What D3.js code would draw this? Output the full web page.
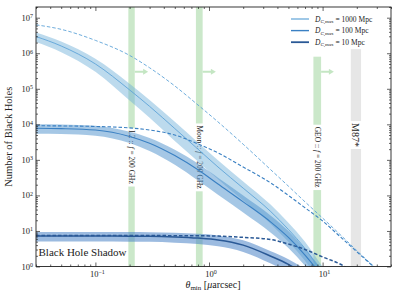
<!DOCTYPE html>
<html>
<head>
<meta charset="utf-8">
<script src="https://cdn.jsdelivr.net/npm/d3@7"></script>
<style>
body { margin: 0; background: white; }
text { font-family: "Liberation Serif", "DejaVu Serif", serif; fill: #222; }
</style>
</head>
<body>
<script>
const largeur = 399;
const hauteur = 299;
const zone = { gauche: 36, droite: 391, haut: 7, bas: 266.5 };

// angles minimaux (µas) communs à toutes les courbes
const thetas = [0.03, 0.05, 0.1, 0.2, 0.3, 0.5, 0.8, 1.2, 2, 3.5, 5, 7, 10, 15, 20, 27, 40];

// courbes pleines (avec incertitude relative)
const plein1000 = [2.95e6, 1.6e6, 5.0e5, 9.3e4, 3.2e4, 7.6e3, 2.0e3, 630, 160, 35, 11, 3.2, 0.63, 0.1, 0.025, 0.005, 0.0006];
const plein100 = [7760, 7590, 6920, 4570, 2950, 1320, 525, 209, 66, 17.8, 6.6, 2.1, 0.5, 0.063, 0.016, 0.003, 0.0004];
const plein10 = [7.2, 7.2, 7.2, 7.15, 7.1, 6.8, 6.3, 5.6, 4.0, 1.95, 1.15, 0.6, 0.22, 0.04, 0.01, 0.002, 0.0002];

const erreur1000 = [0.3, 0.33, 0.4, 0.5, 0.52, 0.55, 0.55, 0.55, 0.55, 0.55, 0.55, 0.55, 0.55, 0.55, 0.55, 0.55, 0.55];
const erreur100 = [0.3, 0.3, 0.31, 0.35, 0.4, 0.45, 0.5, 0.5, 0.5, 0.5, 0.5, 0.5, 0.5, 0.5, 0.5, 0.5, 0.5];
const erreur10 = [0.3, 0.3, 0.3, 0.3, 0.3, 0.31, 0.32, 0.34, 0.36, 0.38, 0.4, 0.4, 0.4, 0.4, 0.4, 0.4, 0.4];

// courbes en tirets
const tirets1000 = [6.3e6, 4.7e6, 2.3e6, 8.7e5, 3.9e5, 1.2e5, 3.5e4, 1.17e4, 2750, 525, 182, 66, 23, 6.8, 2.8, 1.15, 0.35];
const tirets100 = [9120, 9020, 8710, 7940, 6920, 5010, 2820, 1580, 630, 224, 100, 45, 19, 6.0, 2.6, 1.1, 0.34];
const tirets10 = [7.5, 7.5, 7.5, 7.46, 7.41, 7.38, 7.33, 7.16, 6.6, 5.75, 4.27, 3.02, 1.86, 1.07, 0.56, 0.25, 0.063];

const legendes = ["1000 Mpc", "100 Mpc", "10 Mpc"];
const couleursLignes = ["#5fa4d8", "#3a80c3", "#2a5996"];
const couleursBandes = ["#6baed6", "#4b8fcc", "#4a84c6"];
const opacitesBandes = [0.45, 0.5, 0.55];
const epaisseurs = [0.9, 1.1, 1.5];

// bandes verticales : observatoires et M87*
const bandesNoms = ["L2", "Moon", "GEO", "M87*"];
const bandesMin = [0.195, 0.767, 8.3, 17.7];
const bandesMax = [0.222, 0.879, 9.7, 21.8];
const bandesHaut = [2e7, 2e7, 8e5, 1.3e6];
const bandesCouleurs = ["#cbe8ca", "#cbe8ca", "#cbe8ca", "#e6e6e6"];
const hauteurFleche = 3e5;

const xTicksMajeurs = [0.1, 1, 10];
const yTicksMajeurs = [1, 10, 100, 1e3, 1e4, 1e5, 1e6, 1e7];

const svg = d3
.select("body")
.append("svg")
.attr("width", largeur)
.attr("height", hauteur);

const x = d3.scaleLog().domain([0.03, 40]).range([zone.gauche, zone.droite]);
const y = d3.scaleLog().domain([1, 2e7]).range([zone.bas, zone.haut]);

svg.append("defs")
.append("clipPath")
.attr("id", "clip")
.append("rect")
.attr("x", zone.gauche)
.attr("y", zone.haut)
.attr("width", zone.droite - zone.gauche)
.attr("height", zone.bas - zone.haut);

const trace = svg.append("g").attr("clip-path", "url(#clip)");

// bandes verticales
bandesNoms.forEach(function(nom, i)
{
    trace
    .append("rect")
    .attr("x", x(bandesMin[i]))
    .attr("width", x(bandesMax[i]) - x(bandesMin[i]))
    .attr("y", y(bandesHaut[i]))
    .attr("height", zone.bas - y(bandesHaut[i]))
    .attr("fill", bandesCouleurs[i]);

    if(i < 3)
    {
        const centre = Math.sqrt(bandesMin[i] * bandesMax[i]);
        const x0 = x(bandesMax[i]);
        const x1 = x(centre * 1.4);
        const yf = y(hauteurFleche);
        trace
        .append("line")
        .attr("x1", x0)
        .attr("x2", x1 - 4)
        .attr("y1", yf)
        .attr("y2", yf)
        .attr("stroke", "#c4e6c3")
        .attr("stroke-width", 2);
        trace
        .append("path")
        .attr("d", "M" + (x1 - 5) + "," + (yf - 3) + "L" + x1 + "," + yf + "L" + (x1 - 5) + "," + (yf + 3) + "Z")
        .attr("fill", "#c4e6c3");
    }
});

// étiquettes des bandes (texte tourné avec fond blanc)
const etiquettes = svg.append("g");
bandesNoms.forEach(function(nom, i)
{
    const centre = Math.sqrt(bandesMin[i] * bandesMax[i]);
    const g = etiquettes
    .append("g")
    .attr("transform", "translate(" + x(centre) + "," + (i < 3 ? y(1.2e3) : y(5e3)) + ") rotate(90)");

    const fond = g.append("rect").attr("fill", "white");

    const t = g
    .append("text")
    .attr("text-anchor", "middle")
    .attr("dy", "0.35em")
    .style("font-size", i < 3 ? "7.5px" : "10px");

    if(i < 3)
    {
        t.append("tspan").text(nom + " :: ");
        t.append("tspan").style("font-style", "italic").text("f");
        t.append("tspan").text(" = 200 GHz");
    }
    else
    {
        t.text(nom);
    }

    const b = t.node().getBBox();
    fond
    .attr("x", b.x - 2)
    .attr("y", b.y - 0.5)
    .attr("width", b.width + 4)
    .attr("height", b.height + 1);
});

// courbes (au-dessus des étiquettes)
const courbes = svg.append("g").attr("clip-path", "url(#clip)");
const pleins = [plein1000, plein100, plein10];
const tirets = [tirets1000, tirets100, tirets10];
const erreurs = [erreur1000, erreur100, erreur10];

const ligne = d3.line()
.x(function(d) { return x(d[0]); })
.y(function(d) { return y(Math.max(d[1], 1e-3)); })
.curve(d3.curveMonotoneX);

const aire = d3.area()
.x(function(d) { return x(d[0]); })
.y0(function(d) { return y(Math.max(d[1] * (1 - d[2]), 1e-3)); })
.y1(function(d) { return y(Math.max(d[1] * (1 + d[2]), 1e-3)); })
.curve(d3.curveMonotoneX);

pleins.forEach(function(serie, i)
{
    const pts = thetas.map(function(t, j) { return [t, serie[j], erreurs[i][j]]; });
    courbes
    .append("path")
    .attr("d", aire(pts))
    .attr("fill", couleursBandes[i])
    .attr("fill-opacity", opacitesBandes[i]);
});

pleins.forEach(function(serie, i)
{
    const pts = thetas.map(function(t, j) { return [t, serie[j]]; });
    courbes
    .append("path")
    .attr("d", ligne(pts))
    .attr("fill", "none")
    .attr("stroke", couleursLignes[i])
    .attr("stroke-width", epaisseurs[i]);
});

tirets.forEach(function(serie, i)
{
    const pts = thetas.map(function(t, j) { return [t, serie[j]]; });
    courbes
    .append("path")
    .attr("d", ligne(pts))
    .attr("fill", "none")
    .attr("stroke", couleursLignes[i])
    .attr("stroke-width", epaisseurs[i])
    .attr("stroke-dasharray", "3.5,2");
});

// Black Hole Shadow
const ombre = svg.append("g");
const fondOmbre = ombre.append("rect").attr("fill", "white");
const texteOmbre = ombre
.append("text")
.attr("x", 38.5)
.attr("y", 256)
.style("font-size", "11px")
.text("Black Hole Shadow");
const bo = texteOmbre.node().getBBox();
fondOmbre
.attr("x", bo.x - 1)
.attr("y", bo.y)
.attr("width", bo.width + 2)
.attr("height", bo.height);

// axes : graduations vers l'intérieur sur les quatre côtés
function mineurs(domaine)
{
    const res = [];
    for(let e = -3; e <= 8; e++)
    {
        for(let k = 2; k <= 9; k++)
        {
            const v = k * Math.pow(10, e);
            if(v >= domaine[0] && v <= domaine[1]) res.push(v);
        }
    }
    return res;
}

const xMineurs = mineurs(x.domain());
const yMineurs = mineurs(y.domain());

function graduer(axe, valeurs, taille)
{
    return axe.tickValues(valeurs).tickSize(taille).tickFormat("");
}

const axes = svg.append("g");

[[d3.axisBottom, zone.bas], [d3.axisTop, zone.haut]].forEach(function(a)
{
    axes.append("g").attr("transform", "translate(0," + a[1] + ")").call(graduer(a[0](x), xTicksMajeurs, -4));
    axes.append("g").attr("transform", "translate(0," + a[1] + ")").call(graduer(a[0](x), xMineurs, -2));
});
[[d3.axisLeft, zone.gauche], [d3.axisRight, zone.droite]].forEach(function(a)
{
    axes.append("g").attr("transform", "translate(" + a[1] + ",0)").call(graduer(a[0](y), yTicksMajeurs, -4));
    axes.append("g").attr("transform", "translate(" + a[1] + ",0)").call(graduer(a[0](y), yMineurs, -2));
});
axes.selectAll(".domain").remove();
axes.selectAll("line").attr("stroke", "#222").attr("stroke-width", 0.7);

svg
.append("rect")
.attr("x", zone.gauche)
.attr("y", zone.haut)
.attr("width", zone.droite - zone.gauche)
.attr("height", zone.bas - zone.haut)
.attr("fill", "none")
.attr("stroke", "#222")
.attr("stroke-width", 0.9);

// étiquettes des graduations
function puissance(sel, v)
{
    const e = Math.round(Math.log10(v));
    sel.append("tspan").text("10");
    sel.append("tspan")
    .attr("dy", "-0.45em")
    .style("font-size", "6px")
    .text(e < 0 ? "\u2212" + (-e) : e);
}

xTicksMajeurs.forEach(function(v)
{
    const t = svg
    .append("text")
    .attr("x", x(v) + 2)
    .attr("y", 277)
    .attr("text-anchor", "middle")
    .style("font-size", "8.5px");
    puissance(t, v);
});

yTicksMajeurs.forEach(function(v)
{
    const t = svg
    .append("text")
    .attr("x", 33)
    .attr("y", y(v) + 3)
    .attr("text-anchor", "end")
    .style("font-size", "8.5px");
    puissance(t, v);
});

// titres des axes
const titreX = svg
.append("text")
.attr("x", 213)
.attr("y", 288)
.attr("text-anchor", "middle")
.style("font-size", "10px");
titreX.append("tspan").style("font-style", "italic").text("\u03b8");
titreX.append("tspan").attr("dy", "2").style("font-size", "7px").text("min");
titreX.append("tspan").attr("dy", "-2").text("  [");
titreX.append("tspan").style("font-style", "italic").text("\u03bc");
titreX.append("tspan").text("arcsec]");

svg
.append("text")
.attr("transform", "translate(12," + ((zone.haut + zone.bas) / 2) + ") rotate(-90)")
.attr("text-anchor", "middle")
.style("font-size", "10.5px")
.text("Number of Black Holes");

// légende
const legende = svg.append("g");
legendes.forEach(function(nom, i)
{
    const yl = 19 + i * 11.6;
    legende
    .append("line")
    .attr("x1", 291)
    .attr("x2", 309)
    .attr("y1", yl)
    .attr("y2", yl)
    .attr("stroke", couleursLignes[i])
    .attr("stroke-width", epaisseurs[i] + 0.3);

    const t = legende
    .append("text")
    .attr("x", 315)
    .attr("y", yl + 2.5)
    .style("font-size", "7.5px");
    t.append("tspan").style("font-style", "italic").text("D");
    t.append("tspan").attr("dy", "1.5").style("font-size", "5px").style("font-style", "italic").text("C");
    t.append("tspan").style("font-size", "5px").text(",max");
    t.append("tspan").attr("dy", "-1.5").text(" = " + nom);
});
</script>
</body>
</html>
